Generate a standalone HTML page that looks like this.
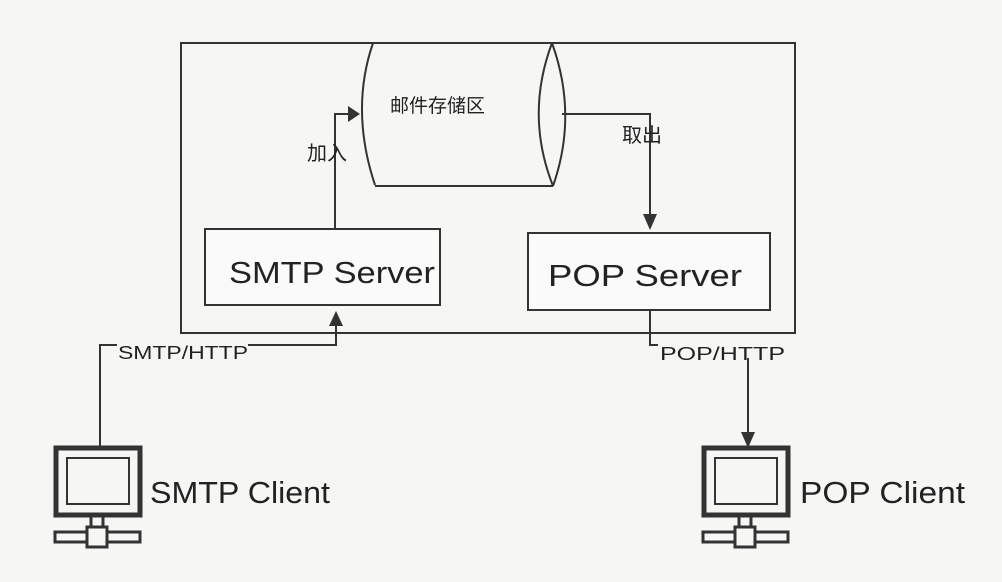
<!DOCTYPE html>
<html><head><meta charset="utf-8"><style>
html,body{margin:0;padding:0;background:#f6f6f4;}
svg{display:block}
text{font-family:"Liberation Sans","Noto Sans CJK SC",sans-serif;fill:#222}
</style></head><body>
<svg width="1002" height="582" viewBox="0 0 1002 582" xmlns="http://www.w3.org/2000/svg">
<rect width="1002" height="582" fill="#f6f6f4"/>
<g stroke="#333" stroke-width="2" fill="none">
<rect x="181" y="43" width="614" height="290"/>
<path d="M373 43 Q350 110 375 185"/>
<line x1="373" y1="43" x2="552" y2="43"/>
<line x1="375" y1="186" x2="553" y2="186"/>
<path d="M552 43 Q525 115 553 186"/>
<path d="M552 43 Q578 115 553 186"/>
<rect x="205" y="229" width="235" height="76" fill="#fafafa"/>
<rect x="528" y="233" width="242" height="77" fill="#fafafa"/>
<polyline points="335,229 335,114 350,114"/>
<polyline points="562,114 650,114 650,222"/>
<polyline points="100,447 100,345 117,345"/>
<polyline points="248,345 336,345 336,322"/>
<polyline points="650,310 650,345 658,345"/>
<line x1="748" y1="358" x2="748" y2="437"/>
</g>
<g fill="#333">
<polygon points="348,106 360,114 348,122"/>
<polygon points="643,214 657,214 650,230"/>
<polygon points="329,326 343,326 336,311"/>
<polygon points="741,432 755,432 748,448"/>
</g>
<text x="390" y="112" font-size="19">邮件存储区</text>
<text x="307" y="160" font-size="20">加入</text>
<text x="622" y="142" font-size="20">取出</text>
<text x="229" y="283" font-size="31" textLength="206" lengthAdjust="spacingAndGlyphs">SMTP Server</text>
<text x="548" y="286" font-size="31" textLength="194" lengthAdjust="spacingAndGlyphs">POP Server</text>
<text x="118" y="359" font-size="18" textLength="130" lengthAdjust="spacingAndGlyphs">SMTP/HTTP</text>
<text x="660" y="360" font-size="18" textLength="125" lengthAdjust="spacingAndGlyphs">POP/HTTP</text>
<g stroke="#333" fill="none">
<rect x="56" y="448" width="84" height="67" stroke-width="5"/>
<rect x="67" y="458" width="62" height="46" stroke-width="2"/>
<rect x="91" y="516" width="12" height="14" stroke-width="3"/>
<rect x="55" y="532" width="85" height="10" stroke-width="3"/>
<rect x="87" y="527" width="20" height="20" stroke-width="3" fill="#f6f6f4"/>
<rect x="704" y="448" width="84" height="67" stroke-width="5"/>
<rect x="715" y="458" width="62" height="46" stroke-width="2"/>
<rect x="739" y="516" width="12" height="14" stroke-width="3"/>
<rect x="703" y="532" width="85" height="10" stroke-width="3"/>
<rect x="735" y="527" width="20" height="20" stroke-width="3" fill="#f6f6f4"/>
</g>
<text x="150" y="503" font-size="31" textLength="180" lengthAdjust="spacingAndGlyphs">SMTP Client</text>
<text x="800" y="503" font-size="31" textLength="165" lengthAdjust="spacingAndGlyphs">POP Client</text>
</svg>
</body></html>
